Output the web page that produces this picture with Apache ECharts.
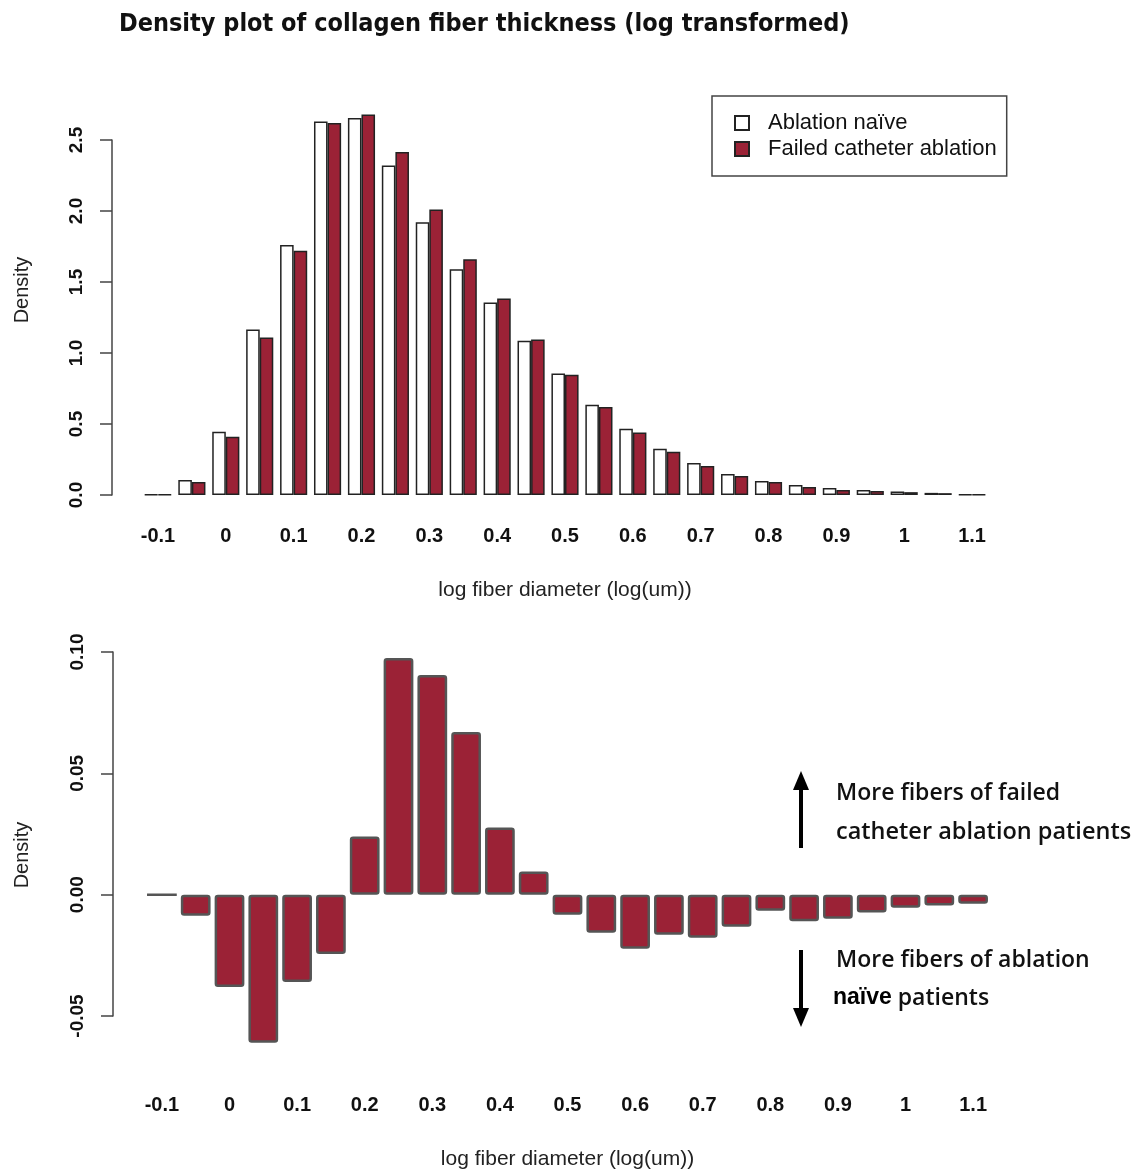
<!DOCTYPE html>
<html>
<head>
<meta charset="utf-8">
<script src="https://cdn.jsdelivr.net/npm/echarts@6/dist/echarts.min.js"></script>
<style>html,body{margin:0;padding:0;background:#fff;}#c{width:1138px;height:1169px;}</style>
</head>
<body>
<div id="c"></div>
<script>
const categories = ['-0.1','-0.05','0','0.05','0.1','0.15','0.2','0.25','0.3','0.35','0.4','0.45','0.5','0.55','0.6','0.65','0.7','0.75','0.8','0.85','0.9','0.95','1','1.05','1.1'];
const naive  = [0.004,0.106,0.445,1.165,1.76,2.63,2.655,2.32,1.92,1.59,1.356,1.087,0.855,0.636,0.466,0.325,0.225,0.148,0.099,0.07,0.049,0.035,0.025,0.015,0.004];
const failed = [0.004,0.092,0.41,1.11,1.72,2.62,2.68,2.415,2.01,1.66,1.384,1.095,0.847,0.62,0.44,0.305,0.205,0.134,0.092,0.057,0.035,0.028,0.02,0.013,0.003];
const diff   = [0,-0.0087,-0.038,-0.061,-0.036,-0.0244,0.024,0.0975,0.0905,0.067,0.0277,0.0095,-0.0083,-0.0157,-0.0223,-0.0165,-0.0178,-0.0132,-0.0066,-0.011,-0.0099,-0.0074,-0.0054,-0.0045,-0.0037];
const topTicks = [0, 0.5, 1.0, 1.5, 2.0, 2.5];
const bottomTicks = [-0.05, 0, 0.05, 0.10];

const RED = '#9b2236';
const chart = echarts.init(document.getElementById('c'), null, {renderer:'canvas'});
const xLabel = {interval:1, margin:30, fontSize:20, fontWeight:'bold', color:'#111', fontFamily:'Liberation Sans'};
const yLabel = {rotate:90, margin:26, fontSize:19, fontWeight:'bold', color:'#111', fontFamily:'Liberation Sans'};
const axisNameStyle = {fontSize:21, color:'#222', fontFamily:'Liberation Sans'};

chart.setOption({
  animation:false,
  backgroundColor:'#fff',
  title:{text:'Density plot of collagen fiber thickness (log transformed)', left:114, top:7,
    textStyle:{fontSize:25, fontWeight:'bold', color:'#111', fontFamily:'DejaVu Sans Condensed'}},
  legend:{data:['Ablation naïve','Failed catheter ablation'], orient:'vertical', left:712, top:96,
    padding:[16,10,16,22], itemGap:4, itemWidth:14, itemHeight:14, icon:'rect',
    borderColor:'#444', borderWidth:1.5,
    textStyle:{fontSize:22, color:'#111', fontFamily:'Liberation Sans', padding:[0,0,0,14]}},
  grid:[
    {left:141, width:848, top:140, height:355, outerBoundsMode:'none'},
    {left:145, width:845, top:652, height:364, outerBoundsMode:'none'}
  ],
  xAxis:[
    {type:'category', gridIndex:0, data:categories, axisLine:{show:false}, axisTick:{show:false},
     axisLabel:Object.assign({}, xLabel, {margin:31}), name:'log fiber diameter (log(um))', nameLocation:'middle', nameGap:85, nameTextStyle:axisNameStyle},
    {type:'category', gridIndex:1, data:categories, axisLine:{show:false, onZero:false}, axisTick:{show:false},
     axisLabel:Object.assign({}, xLabel, {margin:79}), name:'log fiber diameter (log(um))', nameLocation:'middle', nameGap:133, nameTextStyle:axisNameStyle}
  ],
  yAxis:[
    {type:'value', gridIndex:0, min:topTicks[0], max:topTicks[topTicks.length-1], interval:0.5, offset:29,
     axisLine:{show:true, lineStyle:{color:'#444', width:1.5}}, axisTick:{show:true, length:12, lineStyle:{color:'#444', width:1.5}},
     splitLine:{show:false}, axisLabel:Object.assign({}, yLabel, {formatter:v=>v.toFixed(1)})},
    {type:'value', gridIndex:1, min:bottomTicks[0], max:bottomTicks[bottomTicks.length-1], interval:0.05, offset:32,
     axisLine:{show:true, lineStyle:{color:'#444', width:1.5}}, axisTick:{show:true, length:12, lineStyle:{color:'#444', width:1.5}},
     splitLine:{show:false}, axisLabel:Object.assign({}, yLabel, {formatter:v=>v.toFixed(2)})}
  ],
  series:[
    {name:'Ablation naïve', type:'bar', xAxisIndex:0, yAxisIndex:0, data:naive, clip:false,
     barGap:'0%', barCategoryGap:'20%', itemStyle:{color:'#fff', borderColor:'#222', borderWidth:1.5}},
    {name:'Failed catheter ablation', type:'bar', xAxisIndex:0, yAxisIndex:0, data:failed, clip:false,
     barGap:'0%', barCategoryGap:'20%', itemStyle:{color:RED, borderColor:'#222', borderWidth:1.5}},
    {name:'Difference', type:'bar', xAxisIndex:1, yAxisIndex:1, data:diff, clip:false,
     barCategoryGap:'12%', itemStyle:{color:RED, borderColor:'#555', borderWidth:2.5, borderRadius:2}}
  ],
  graphic:[
    {type:'text', rotation:Math.PI/2, position:[22,290],
     style:{text:'Density', font:'20px "Liberation Sans"', fill:'#222', align:'center', verticalAlign:'middle'}},
    {type:'text', rotation:Math.PI/2, position:[22,855],
     style:{text:'Density', font:'20px "Liberation Sans"', fill:'#222', align:'center', verticalAlign:'middle'}},
    {type:'line', shape:{x1:801, y1:848, x2:801, y2:786}, style:{stroke:'#000', lineWidth:4}},
    {type:'polygon', shape:{points:[[801,771],[793,790],[809,790]]}, style:{fill:'#000'}},
    {type:'line', shape:{x1:801, y1:950, x2:801, y2:1012}, style:{stroke:'#000', lineWidth:4}},
    {type:'polygon', shape:{points:[[801,1027],[793,1008],[809,1008]]}, style:{fill:'#000'}},
    {type:'text', position:[836,793], style:{text:'More fibers of failed', font:'600 23px "Open Sans"', fill:'#111', verticalAlign:'middle'}},
    {type:'text', position:[836,832], style:{text:'catheter ablation patients', font:'600 23.5px "Open Sans"', fill:'#111', verticalAlign:'middle'}},
    {type:'text', position:[836,960], style:{text:'More fibers of ablation', font:'600 23px "Open Sans"', fill:'#111', verticalAlign:'middle'}},
    {type:'text', position:[833,998], style:{text:'{a|naïve} patients', font:'600 23px "Open Sans"', fill:'#111', verticalAlign:'middle',
      rich:{a:{font:'bold 23px "Liberation Sans"', fill:'#000'}}}}
  ]
});
</script>
</body>
</html>
